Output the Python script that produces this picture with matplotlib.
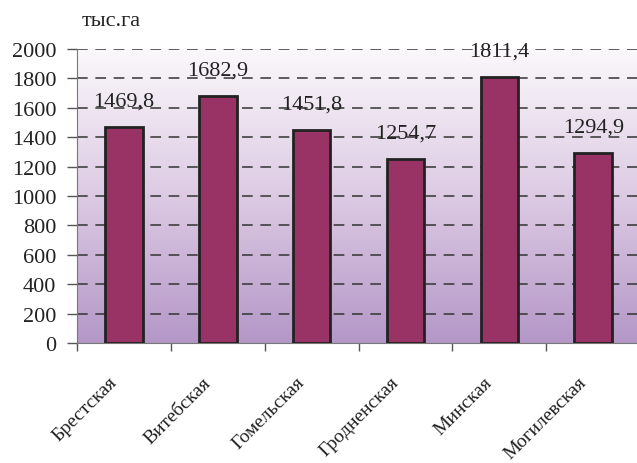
import matplotlib
matplotlib.use("Agg")
from matplotlib import pyplot as plt
import matplotlib.transforms as mtransforms
import numpy as np
from matplotlib.colors import LinearSegmentedColormap

regions = ["Брестская", "Витебская", "Гомельская", "Гродненская", "Минская", "Могилевская"]
values = [1469.8, 1682.9, 1451.8, 1254.7, 1811.4, 1294.9]
value_labels = ["1469,8", "1682,9", "1451,8", "1254,7", "1811,4", "1294,9"]
yticks = [0, 200, 400, 600, 800, 1000, 1200, 1400, 1600, 1800, 2000]

plt.rcParams['font.family'] = ['Liberation Serif', 'DejaVu Serif']

fig = plt.figure(figsize=(6.37, 4.64), dpi=100)
ax = fig.add_axes([77/637, 1 - 344/464, (637 - 77)/637 + 0.005, (344 - 50)/464])

n = len(regions)
x = np.arange(n)
ax.set_xlim(-0.5, n - 0.5)
ax.set_ylim(0, 2000)

# vertical gradient fill: pale at the top, lilac at the bottom
grad = np.linspace(0, 1, 256).reshape(-1, 1)
cmap = LinearSegmentedColormap.from_list("bg", ["#fbf8fb", "#dccae3", "#b497c7"])
ax.imshow(grad, aspect="auto", cmap=cmap, extent=(-0.5, n - 0.5, 0, 2000),
          origin="upper", zorder=0)

for y in yticks[1:]:
    ax.axhline(y, color="#333333", lw=1.1, dashes=(7, 5), zorder=1)

ax.bar(x, values, width=0.4, color="#993366", edgecolor="#222222", lw=2, zorder=3)

for xi, v, s in zip(x, values, value_labels):
    ax.text(xi, v + 110, s, ha="center", va="bottom", fontsize=16, color="#222222", zorder=4)

ax.set_yticks(yticks)
ax.set_yticklabels([str(t) for t in yticks], fontsize=16, color="#222222")
ax.tick_params(axis="y", direction="out", length=7, width=1, color="#555555", pad=8)

ax.set_xticks(x)
ax.set_xticklabels(regions, rotation=45, ha="right", rotation_mode="anchor", fontsize=14, color="#222222")
ax.tick_params(axis="x", which="major", length=0, pad=22)
shift = mtransforms.ScaledTranslation(-16/100, 0, fig.dpi_scale_trans)
for lbl in ax.get_xticklabels():
    lbl.set_transform(lbl.get_transform() + shift)
ax.set_xticks(np.arange(n + 1) - 0.5, minor=True)
ax.tick_params(axis="x", which="minor", direction="out", length=6, width=1, color="#555555")

for side in ["top", "right"]:
    ax.spines[side].set_visible(False)
ax.spines["left"].set_color("#777777")
ax.spines["bottom"].set_color("#777777")

fig.text(82/637, 1 - 22/464, "тыс.га", fontsize=16, va="center", ha="left", color="#222222")

fig.savefig("out.png", dpi=100)
